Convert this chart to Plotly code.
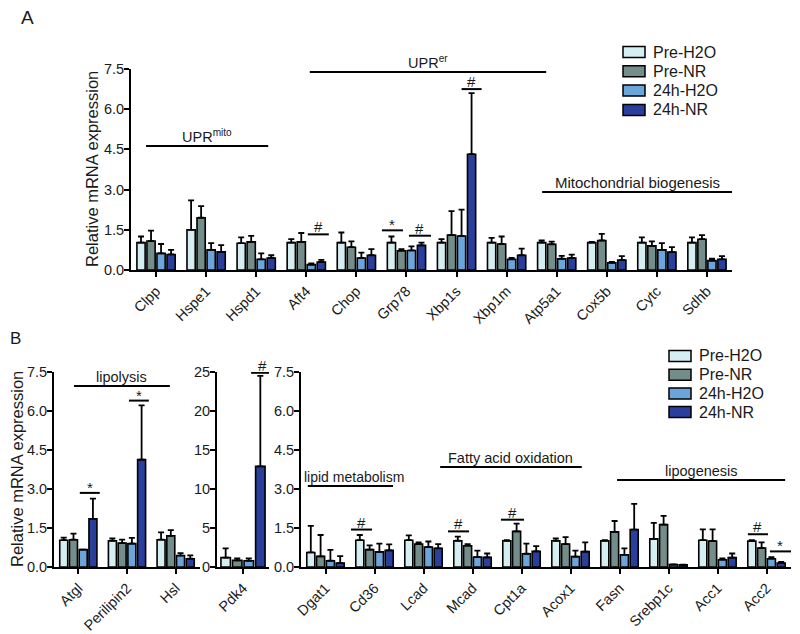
import plotly.graph_objects as go

# ---------------- data ----------------
series = ["Pre-H2O", "Pre-NR", "24h-H2O", "24h-NR"]
colors = ["#d5eef1", "#728d8a", "#6aa5dc", "#2a3e9c"]

# Panel A
genes_a = ["Clpp", "Hspe1", "Hspd1", "Aft4", "Chop", "Grp78", "Xbp1s", "Xbp1m",
           "Atp5a1", "Cox5b", "Cytc", "Sdhb"]
a_pre_h2o = [1.02, 1.50, 1.00, 1.02, 1.02, 1.02, 1.02, 1.02, 1.02, 1.02, 1.02, 1.02]
a_pre_nr = [1.08, 1.95, 1.05, 1.05, 0.85, 0.72, 1.30, 0.97, 0.96, 1.10, 0.90, 1.15]
a_24h_h2o = [0.62, 0.75, 0.40, 0.20, 0.45, 0.73, 1.27, 0.40, 0.42, 0.27, 0.75, 0.35]
a_24h_nr = [0.58, 0.68, 0.45, 0.30, 0.55, 0.92, 4.32, 0.55, 0.45, 0.37, 0.67, 0.40]
a_pre_h2o_sem = [0.23, 1.10, 0.22, 0.13, 0.38, 0.23, 0.13, 0.18, 0.08, 0.03, 0.20, 0.20]
a_pre_nr_sem = [0.39, 0.43, 0.22, 0.33, 0.22, 0.06, 0.90, 0.28, 0.10, 0.25, 0.17, 0.15]
a_24h_h2o_sem = [0.35, 0.25, 0.22, 0.05, 0.20, 0.15, 0.98, 0.05, 0.11, 0.03, 0.25, 0.07]
a_24h_nr_sem = [0.17, 0.25, 0.10, 0.08, 0.23, 0.10, 2.28, 0.25, 0.12, 0.15, 0.18, 0.12]

# Panel B - lipolysis
genes_b1 = ["Atgl", "Perilipin2", "Hsl"]
b1_pre_h2o = [1.03, 1.01, 1.05]
b1_pre_nr = [1.05, 0.92, 1.20]
b1_24h_h2o = [0.67, 0.90, 0.44]
b1_24h_nr = [1.85, 4.13, 0.32]
b1_pre_h2o_sem = [0.10, 0.09, 0.28]
b1_pre_nr_sem = [0.23, 0.13, 0.22]
b1_24h_h2o_sem = [0.00, 0.22, 0.09]
b1_24h_nr_sem = [0.78, 2.09, 0.13]

# Panel B - Pdk4
genes_b2 = ["Pdk4"]
b2_pre_h2o = [1.20]
b2_pre_nr = [0.85]
b2_24h_h2o = [0.80]
b2_24h_nr = [12.9]
b2_pre_h2o_sem = [1.20]
b2_pre_nr_sem = [0.25]
b2_24h_h2o_sem = [0.30]
b2_24h_nr_sem = [11.6]

# Panel B - lipid metabolism / FAO / lipogenesis
genes_b3 = ["Dgat1", "Cd36", "Lcad", "Mcad", "Cpt1a", "Acox1", "Fasn", "Srebp1c", "Acc1", "Acc2"]
b3_pre_h2o = [0.56, 1.03, 1.03, 1.01, 1.01, 1.01, 1.01, 1.08, 1.03, 1.00]
b3_pre_nr = [0.41, 0.67, 0.88, 0.82, 1.37, 0.88, 1.35, 1.63, 1.00, 0.73]
b3_24h_h2o = [0.24, 0.58, 0.77, 0.38, 0.51, 0.40, 0.47, 0.09, 0.28, 0.32]
b3_24h_nr = [0.15, 0.64, 0.72, 0.37, 0.60, 0.59, 1.44, 0.08, 0.36, 0.15]
b3_pre_h2o_sem = [1.02, 0.20, 0.19, 0.16, 0.02, 0.09, 0.02, 0.62, 0.42, 0.03]
b3_pre_nr_sem = [0.82, 0.16, 0.07, 0.06, 0.30, 0.27, 0.42, 0.34, 0.45, 0.22]
b3_24h_h2o_sem = [0.42, 0.32, 0.21, 0.25, 0.39, 0.23, 0.25, 0.01, 0.05, 0.06]
b3_24h_nr_sem = [0.27, 0.23, 0.16, 0.15, 0.20, 0.36, 0.99, 0.01, 0.16, 0.05]

yticks_expr = [0.0, 1.5, 3.0, 4.5, 6.0, 7.5]
yticks_pdk4 = [0, 5, 10, 15, 20, 25]

# ---------------- layout helpers ----------------
W, H = 800, 634
FONT = "Liberation Sans, Arial, sans-serif"
TXT = "#1a1a1a"


def fx(px):
    return px / W


def fy(py):
    return 1 - py / H


fig = go.Figure()

panels = [
    ("", genes_a, [a_pre_h2o, a_pre_nr, a_24h_h2o, a_24h_nr],
     [a_pre_h2o_sem, a_pre_nr_sem, a_24h_h2o_sem, a_24h_nr_sem],
     (131, 732), (270, 69), [0, 7.5], yticks_expr, ".1f", 0.5),
    ("2", genes_b1, [b1_pre_h2o, b1_pre_nr, b1_24h_h2o, b1_24h_nr],
     [b1_pre_h2o_sem, b1_pre_nr_sem, b1_24h_h2o_sem, b1_24h_nr_sem],
     (54, 200), (567, 372), [0, 7.5], yticks_expr, ".1f", 0.5),
    ("3", genes_b2, [b2_pre_h2o, b2_pre_nr, b2_24h_h2o, b2_24h_nr],
     [b2_pre_h2o_sem, b2_pre_nr_sem, b2_24h_h2o_sem, b2_24h_nr_sem],
     (217, 269), (567, 372), [0, 25], yticks_pdk4, "d", 0.45),
    ("4", genes_b3, [b3_pre_h2o, b3_pre_nr, b3_24h_h2o, b3_24h_nr],
     [b3_pre_h2o_sem, b3_pre_nr_sem, b3_24h_h2o_sem, b3_24h_nr_sem],
     (301, 791), (567, 372), [0, 7.5], yticks_expr, ".1f", 0.5),
]

for suffix, genes, vals, sems, xd, yd, yr, yt, fmt, pad in panels:
    xa = "x" + suffix
    ya = "y" + suffix
    for s, v, e, c in zip(series, vals, sems, colors):
        fig.add_trace(go.Bar(
            x=genes, y=v, name=s, showlegend=False, xaxis=xa, yaxis=ya,
            marker=dict(color=c, line=dict(color="black", width=1.6)),
            error_y=dict(type="data", array=e, arrayminus=[0] * len(e), symmetric=False,
                         color="black", thickness=1.8, width=3),
        ))
    fig.layout["xaxis" + suffix] = go.layout.XAxis(
        domain=[fx(xd[0]), fx(xd[1])], anchor=ya, range=[-pad, len(genes) - 1 + pad],
        type="category")
    fig.layout["yaxis" + suffix] = go.layout.YAxis(
        domain=[fy(yd[0]), fy(yd[1])], anchor=xa, range=yr, tickvals=yt, tickformat=fmt)

common = dict(showgrid=False, zeroline=False, showline=True, linecolor="black",
              linewidth=2, ticks="outside", ticklen=5, tickwidth=2, tickcolor="black",
              automargin=False)
fig.update_xaxes(**common, tickangle=-45,
                 tickfont=dict(family=FONT, size=14.5, color=TXT))
fig.update_yaxes(**common, ticklabelstandoff=-3,
                 tickfont=dict(family=FONT, size=14.5, color=TXT))

shapes = []
annots = []


def line(ax, x0, x1, y, text=None, size=14, dy=0):
    xa = "x" + ax
    ya = "y" + ax
    shapes.append(dict(type="line", xref=xa, yref=ya, x0=x0, x1=x1, y0=y, y1=y,
                       line=dict(color="black", width=2)))
    if text:
        annots.append(dict(xref=xa, yref=ya, x=(x0 + x1) / 2, y=y, text=text,
                           showarrow=False, yanchor="bottom", yshift=dy,
                           font=dict(family=FONT, size=size, color=TXT)))


# Panel A group labels
line("", -0.2, 2.24, 4.63, "UPR<sup>mito</sup>", 14.5, -1)
line("", 3.07, 7.79, 7.39, "UPR<sup>er</sup>", 14.5, -1)
line("", 7.71, 11.5, 2.91, "Mitochondrial biogenesis", 15, -1)
# Panel A significance
line("", 3 + 0.03, 3 + 0.45, 1.33, "#", 15, -3)
line("", 5 - 0.49, 5 - 0.07, 1.48, "*", 15, -5)
line("", 5 + 0.05, 5 + 0.49, 1.28, "#", 15, -3)
line("", 6 + 0.1, 6 + 0.5, 6.75, "#", 15, -3)

# Panel B lipolysis
line("2", -0.09, 1.88, 6.96, "lipolysis", 14.5, -1)
line("2", 0.03, 0.44, 2.85, "*", 15, -5)
line("2", 1.04, 1.45, 6.40, "*", 15, -5)
# Pdk4
line("3", 0.14, 0.54, 24.9, "#", 15, -3)
# Panel B right
line("4", -0.36, 1.38, 3.12, None)
annots.append(dict(xref="x4", yref="y4", x=-0.47, y=3.12, text="lipid metabolism",
                   showarrow=False, xanchor="left", yanchor="bottom", yshift=-1,
                   font=dict(family=FONT, size=14, color=TXT)))
line("4", 2.34, 5.23, 3.85, "Fatty acid oxidation", 14.5, -1)
line("4", 5.95, 9.38, 3.35, "lipogenesis", 14.5, -1)
line("4", 1 - 0.48, 1 - 0.05, 1.44, "#", 15, -3)
line("4", 3 - 0.5, 3 - 0.07, 1.37, "#", 15, -3)
line("4", 4 - 0.42, 4 + 0.05, 1.82, "#", 15, -3)
line("4", 9 - 0.38, 9 + 0.03, 1.26, "#", 15, -3)
line("4", 9 + 0.07, 9 + 0.5, 0.60, "*", 15, -5)

# Legends (manual)
for bx, ty, gap in [(623, 52, 19.3), (669, 356, 18.7)]:
    for i, (s, c) in enumerate(zip(series, colors)):
        cy = ty + i * gap
        shapes.append(dict(type="rect", xref="paper", yref="paper",
                           x0=fx(bx), x1=fx(bx + 22), y0=fy(cy + 5.5), y1=fy(cy - 5.5),
                           fillcolor=c, line=dict(color="black", width=1.5)))
        annots.append(dict(xref="paper", yref="paper", x=fx(bx + 28), y=fy(cy), text=s,
                           showarrow=False, xanchor="left", yanchor="middle",
                           font=dict(family=FONT, size=16, color=TXT)))

# Axis titles and panel letters
for tx, ty in [(92, 169), (17, 469)]:
    annots.append(dict(xref="paper", yref="paper", x=fx(tx), y=fy(ty),
                       text="Relative mRNA expression", textangle=-90, showarrow=False,
                       xanchor="center", yanchor="middle",
                       font=dict(family=FONT, size=16.5, color=TXT)))
for letter, lx, ly, sz in [("A", 27, 17, 19), ("B", 15, 338, 17)]:
    annots.append(dict(xref="paper", yref="paper", x=fx(lx), y=fy(ly), text=letter,
                       showarrow=False, xanchor="center", yanchor="middle",
                       font=dict(family=FONT, size=sz, color=TXT)))

fig.update_layout(
    width=W, height=H, autosize=False, margin=dict(l=0, r=0, t=0, b=0, pad=0),
    paper_bgcolor="white", plot_bgcolor="white",
    barmode="group", bargap=0.2, bargroupgap=0.18,
    showlegend=False, shapes=shapes, annotations=annots,
    font=dict(family=FONT, color=TXT),
)

fig.write_html("out.html", config={"displayModeBar": False},
               post_script="document.body.style.margin='0';")
